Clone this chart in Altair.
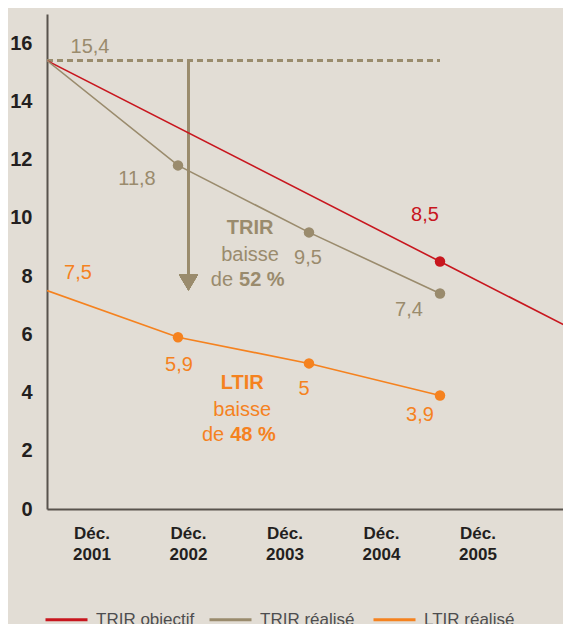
import altair as alt
import pandas as pd

# ---------------- data ----------------
series_names = ["TRIR objectif", "TRIR réalisé", "LTIR réalisé"]
series_colors = ["#c8161e", "#9a8b6d", "#f5821f"]

years = [2001, 2002, 2003, 2004]
trir_realise = [15.4, 11.8, 9.5, 7.4]
ltir_realise = [7.5, 5.9, 5.0, 3.9]
objectif_years = [2001, 2004, 2005]
trir_objectif = [15.4, 8.5, 6.2]
realise_dot_years = [2002, 2003, 2004]
objectif_dot_years = [2004]

tick_labels = ["Déc.\n2001", "Déc.\n2002", "Déc.\n2003", "Déc.\n2004", "Déc.\n2005"]
y_ticks = [0, 2, 4, 6, 8, 10, 12, 14, 16]

reference_value = 15.4      # dashed reference line
reference_end_year = 2004
arrow_year = 2002.08
arrow_tip = 7.5
trir_drop = "52 %"
ltir_drop = "48 %"

rows = []
for y, v in zip(objectif_years, trir_objectif):
    rows.append({"series": series_names[0], "year": y, "value": v,
                 "dot": y in objectif_dot_years})
for y, v in zip(years, trir_realise):
    rows.append({"series": series_names[1], "year": y, "value": v,
                 "dot": y in realise_dot_years})
for y, v in zip(years, ltir_realise):
    rows.append({"series": series_names[2], "year": y, "value": v,
                 "dot": y in realise_dot_years})
df = pd.DataFrame(rows)

# ---------------- styles ----------------
FONT = "Liberation Sans"
BG = "#e2ddd5"
AXIS_COLOR = "#58534d"
DARK = "#231f20"
PX_PER_YEAR = 131
W, H = 516, 495
color_of = dict(zip(series_names, series_colors))

xscale = alt.Scale(domain=[2001, 2001 + W / PX_PER_YEAR], nice=False, zero=False)
yscale = alt.Scale(domain=[0, 17], nice=False, zero=True)
xaxis = alt.Axis(title=None, labels=False, ticks=False, grid=False,
                 domain=True, domainColor=AXIS_COLOR, domainWidth=2)
yaxis = alt.Axis(title=None, values=y_ticks, ticks=False, grid=False,
                 domain=True, domainColor=AXIS_COLOR, domainWidth=2,
                 labelFont=FONT, labelFontSize=20, labelFontWeight="bold",
                 labelColor=DARK, labelPadding=15)

X = alt.X("year:Q", scale=xscale, axis=xaxis)
Y = alt.Y("value:Q", scale=yscale, axis=yaxis)


def XD(v):
    return alt.X(datum=v, type="quantitative", scale=xscale, axis=xaxis)


def YD(v):
    return alt.Y(datum=v, type="quantitative", scale=yscale, axis=yaxis)


base = alt.Chart(df)

legend = alt.Legend(title=None, orient="none", legendX=-3, legendY=583,
                    direction="horizontal", columns=3, gridAlign="all",
                    symbolType="stroke", symbolSize=1764, symbolStrokeWidth=3,
                    labelFont=FONT, labelFontSize=17, labelColor="#4d4d4f",
                    labelOffset=7, columnPadding=8, padding=0, labelLimit=0)

lines = base.mark_line(strokeWidth=1.6, clip=True).encode(
    x=X, y=Y,
    color=alt.Color("series:N", scale=alt.Scale(domain=series_names, range=series_colors),
                    legend=legend),
    order="year:Q",
)

dashed = alt.Chart(df).mark_rule(color=series_colors[1], strokeWidth=2,
                                 strokeDash=[6, 4]).encode(
    x=XD(2001), x2=alt.X2(datum=reference_end_year), y=YD(reference_value))

arrow_line = alt.Chart(df).mark_rule(color=series_colors[1], strokeWidth=1.6).encode(
    x=XD(arrow_year), y=YD(reference_value), y2=alt.Y2(datum=arrow_tip + 0.5))

arrow_head = alt.Chart(df).mark_point(
    shape="M-1,-1.7L1,-1.7L0,0Z", size=361, filled=True, opacity=1,
    color=series_colors[1]).encode(x=XD(arrow_year), y=YD(arrow_tip))

points = []
for s in series_names:
    points.append(
        base.transform_filter(alt.datum.series == s).transform_filter("datum.dot")
        .mark_circle(size=110, opacity=1, color=color_of[s]).encode(x=X, y=Y)
    )

# label offsets (pixels) relative to each point
label_specs = [
    (series_names[1], 2001, 43, -14),
    (series_names[1], 2002, -41, 14),
    (series_names[1], 2003, -1, 26),
    (series_names[1], 2004, -31, 16),
    (series_names[0], 2004, -15, -47),
    (series_names[2], 2001, 31, -18),
    (series_names[2], 2002, 1, 28),
    (series_names[2], 2003, -5, 26),
    (series_names[2], 2004, -20, 20),
]
labels = []
for s, yr, dx, dy in label_specs:
    labels.append(
        base.transform_filter((alt.datum.series == s) & (alt.datum.year == yr))
        .transform_calculate(label="replace(toString(datum.value), '.', ',')")
        .mark_text(font=FONT, fontSize=20, color=color_of[s], dx=dx, dy=dy,
                   align="center", baseline="middle")
        .encode(x=X, y=Y, text="label:N")
    )


def annotation(xv, yv, title, drop, color, split_dx):
    one = pd.DataFrame({"k": [0]})
    c = alt.Chart(one)
    common = dict(font=FONT, fontSize=20, color=color, baseline="middle")
    return [
        c.mark_text(text=title, fontWeight="bold", align="center", dy=-27, **common)
        .encode(x=XD(xv), y=YD(yv)),
        c.mark_text(text="baisse", align="center", dy=0, **common)
        .encode(x=XD(xv), y=YD(yv)),
        c.mark_text(text="de", align="right", dx=split_dx - 3, dy=25, **common)
        .encode(x=XD(xv), y=YD(yv)),
        c.mark_text(text=drop, fontWeight="bold", align="left", dx=split_dx + 3, dy=25, **common)
        .encode(x=XD(xv), y=YD(yv)),
    ]


annots = (annotation(2002.55, 8.73, "TRIR", trir_drop, series_colors[1], -14)
          + annotation(2002.49, 3.40, "LTIR", ltir_drop, series_colors[2], -15))

inner = alt.layer(dashed, arrow_line, arrow_head, lines, *points, *labels, *annots)

ticks_layer = alt.Chart(pd.DataFrame({"tick": tick_labels})).mark_text(
    font=FONT, fontSize=17, fontWeight="bold", color=DARK, lineBreak="\n",
    lineHeight=21, align="center", baseline="top"
).encode(
    x=alt.X("tick:N", sort=tick_labels,
            scale=alt.Scale(type="point", range=[45, 431], padding=0), axis=None),
    y=alt.value(H + 17),
    text="tick:N",
)

chart = alt.layer(inner, ticks_layer).resolve_scale(x="independent").properties(
    width=W, height=H,
    padding={"left": 39, "top": 6, "right": 0, "bottom": 115},
    autosize=alt.AutoSizeParams(type="none"),
    background=BG,
).configure_view(stroke=None)

chart.save("out.html", embed_options={"renderer": "svg", "actions": False})
